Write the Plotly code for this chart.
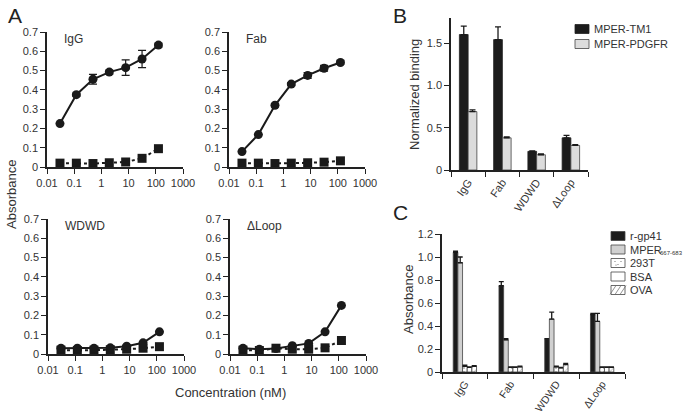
import plotly.graph_objects as go

W, H = 683, 413
FONT = "Liberation Sans, Arial, sans-serif"

# ---- panel A data ----
conc = [0.03, 0.12, 0.49, 1.95, 7.8, 31.25, 125]
a_titles = ["IgG", "Fab", "WDWD", "ΔLoop"]
a_tm1 = [
    [0.225, 0.375, 0.455, 0.492, 0.515, 0.56, 0.632],
    [0.08, 0.168, 0.32, 0.43, 0.475, 0.512, 0.542],
    [0.03, 0.03, 0.03, 0.032, 0.04, 0.058, 0.115],
    [0.03, 0.025, 0.028, 0.043, 0.055, 0.115, 0.252],
]
a_tm1_err = [
    [0.0, 0.008, 0.025, 0.01, 0.04, 0.045, 0.01],
    [0.0, 0.0, 0.008, 0.008, 0.015, 0.015, 0.008],
    [0.0, 0.0, 0.0, 0.0, 0.0, 0.0, 0.0],
    [0.0, 0.0, 0.0, 0.0, 0.0, 0.0, 0.0],
]
a_pdgfr = [
    [0.02, 0.02, 0.018, 0.022, 0.026, 0.045, 0.095],
    [0.02, 0.02, 0.018, 0.02, 0.022, 0.025, 0.032],
    [0.02, 0.018, 0.02, 0.022, 0.025, 0.03, 0.038],
    [0.02, 0.018, 0.03, 0.025, 0.025, 0.032, 0.07],
]

# ---- panel B data ----
b_cats = ["IgG", "Fab", "WDWD", "ΔLoop"]
b_names = ["MPER-TM1", "MPER-PDGFR"]
b_tm1 = [1.6, 1.54, 0.22, 0.38]
b_tm1_err = [0.1, 0.15, 0.005, 0.03]
b_pdgfr = [0.69, 0.38, 0.18, 0.29]
b_pdgfr_err = [0.02, 0.01, 0.01, 0.01]
b_fill = ["#1c1c1c", "#dcdcdc"]

# ---- panel C data ----
c_cats = ["IgG", "Fab", "WDWD", "ΔLoop"]
c_names = ["r-gp41", "MPER", "293T", "BSA", "OVA"]
c_subs = ["", "667-683", "", "", ""]
c_vals = [
    [1.04, 0.75, 0.29, 0.50],
    [0.95, 0.28, 0.46, 0.44],
    [0.05, 0.04, 0.045, 0.04],
    [0.04, 0.04, 0.035, 0.04],
    [0.05, 0.045, 0.065, 0.04],
]
c_errs = [
    [0.01, 0.035, 0.0, 0.01],
    [0.05, 0.01, 0.06, 0.07],
    [0.01, 0.005, 0.005, 0.005],
    [0.005, 0.005, 0.005, 0.005],
    [0.005, 0.005, 0.01, 0.005],
]
c_fill = ["#1c1c1c", "#d0d0d0", "white", "white", "white"]
c_pattern = ["", "", ".", "", "/"]


def px_x(x):
    return x / W


def px_y(y):
    return 1 - y / H


fig = go.Figure()

axis_style = dict(
    showline=True, linecolor="#222", linewidth=1.5, ticks="outside",
    ticklen=5, tickwidth=1.3, tickcolor="#222", showgrid=False, zeroline=False,
    automargin=False,
    tickfont=dict(family=FONT, size=11, color="#333"),
)

# panel A subplot pixel boxes: (x0, x1, ytop, ybottom)
a_boxes = [(47, 183, 32, 167), (229, 365, 32, 167), (48, 184, 219, 354), (230, 366, 219, 354)]

for i in range(4):
    n = i + 1
    xa = "x" if n == 1 else f"x{n}"
    ya = "y" if n == 1 else f"y{n}"
    fig.add_trace(go.Scatter(
        x=conc, y=a_pdgfr[i], xaxis=xa, yaxis=ya, mode="lines+markers",
        line=dict(color="#1a1a1a", width=2, dash="dot"),
        marker=dict(symbol="square", size=9, color="#1a1a1a"),
        cliponaxis=False, showlegend=False,
    ))
    fig.add_trace(go.Scatter(
        x=conc, y=a_tm1[i], xaxis=xa, yaxis=ya, mode="lines+markers",
        line=dict(color="#1a1a1a", width=2),
        marker=dict(symbol="circle", size=9, color="#1a1a1a"),
        error_y=dict(type="data", array=a_tm1_err[i], color="#1a1a1a", thickness=1.2, width=4),
        cliponaxis=False, showlegend=False,
    ))
    x0, x1, yt, yb = a_boxes[i]
    fig.layout[f"xaxis{n if n > 1 else ''}"] = dict(
        axis_style, domain=[px_x(x0), px_x(x1)], anchor=ya, type="log", range=[-2, 3],
        tickvals=[0.01, 0.1, 1, 10, 100, 1000],
        ticktext=["0.01", "0.1", "1", "10", "100", "1000"],
    )
    fig.layout[f"yaxis{n if n > 1 else ''}"] = dict(
        axis_style, domain=[px_y(yb), px_y(yt)], anchor=xa, range=[0, 0.7],
        tickvals=[0, 0.1, 0.2, 0.3, 0.4, 0.5, 0.6, 0.7],
    )
    fig.add_annotation(
        text=a_titles[i], xref="paper", yref="paper", x=px_x(x0 + 15), y=px_y(yt + 7),
        xanchor="left", yanchor="middle", showarrow=False,
        font=dict(family=FONT, size=12, color="#333"),
    )

# panel B
for vals, errs, name, fill, edge in [(b_tm1, b_tm1_err, b_names[0], b_fill[0], "#222"),
                                     (b_pdgfr, b_pdgfr_err, b_names[1], b_fill[1], "#444")]:
    fig.add_trace(go.Bar(
        x=b_cats, y=vals, name=name, xaxis="x5", yaxis="y5", showlegend=False,
        marker=dict(color=fill, line=dict(color=edge, width=0.8)),
        error_y=dict(type="data", array=errs, arrayminus=[0] * 4, symmetric=False,
                     color="#1a1a1a", thickness=1.3, width=3),
    ))
fig.layout.xaxis5 = dict(
    axis_style, domain=[px_x(451), px_x(588)], anchor="y5", type="category",
    tickson="boundaries", tickangle=-55, range=[-0.5, 3.5],
)
fig.layout.yaxis5 = dict(
    axis_style, domain=[px_y(170), px_y(17.6)], anchor="x5", range=[0, 1.8],
    tickvals=[0, 0.5, 1.0, 1.5], ticktext=["0", "0.5", "1.0", "1.5"],
)

# panel C
for k in range(5):
    fig.add_trace(go.Bar(
        x=c_cats, y=c_vals[k], name=c_names[k] + c_subs[k], xaxis="x6", yaxis="y6",
        showlegend=False,
        marker=dict(color=c_fill[k], line=dict(color="#444", width=0.8),
                    pattern=dict(shape=c_pattern[k], fgcolor="#555", size=4, solidity=0.2)),
        error_y=dict(type="data", array=c_errs[k], arrayminus=[0] * 4, symmetric=False,
                     color="#1a1a1a", thickness=1.3, width=2.5),
    ))
fig.layout.xaxis6 = dict(
    axis_style, domain=[px_x(442), px_x(625)], anchor="y6", type="category",
    tickson="boundaries", tickangle=-55, range=[-0.5, 3.5],
    tickfont=dict(family=FONT, size=10.5, color="#333"),
)
fig.layout.yaxis6 = dict(
    axis_style, domain=[px_y(372), px_y(234)], anchor="x6", range=[0, 1.2],
    tickvals=[0, 0.2, 0.4, 0.6, 0.8, 1.0, 1.2],
    ticktext=["0", "0.2", "0.4", "0.6", "0.8", "1.0", "1.2"],
)


# compact legends, GraphPad style (swatch + label)
def legend_item(x, yc, fill, label, pattern="", edge="#444", size=11, sub=""):
    x0, x1, y0, y1 = x, x + 14, yc - 4.5, yc + 4.5
    fig.add_shape(type="rect", xref="paper", yref="paper",
                  x0=px_x(x0), x1=px_x(x1), y0=px_y(y1), y1=px_y(y0),
                  fillcolor=fill, line=dict(color=edge, width=0.8))
    if pattern == "/":
        for dx in (0, 5, 10):
            fig.add_shape(type="line", xref="paper", yref="paper",
                          x0=px_x(x0 + dx - 1), x1=px_x(x0 + dx + 5), y0=px_y(y1), y1=px_y(y0),
                          line=dict(color="#666", width=0.7))
    elif pattern == ".":
        for dx, dy in [(4, -1.5), (7, 1.5), (10, -1.5), (5, 2)]:
            fig.add_shape(type="circle", xref="paper", yref="paper",
                          x0=px_x(x0 + dx - 0.6), x1=px_x(x0 + dx + 0.6),
                          y0=px_y(yc + dy + 0.6), y1=px_y(yc + dy - 0.6),
                          fillcolor="#666", line=dict(width=0))
    fig.add_annotation(text=label, xref="paper", yref="paper", x=px_x(x1 + 3), y=px_y(yc),
                       xanchor="left", yanchor="middle", showarrow=False,
                       font=dict(family=FONT, size=size, color="#333"))
    if sub:
        fig.add_annotation(text=sub, xref="paper", yref="paper", x=px_x(x1 + 33), y=px_y(yc + 3),
                           xanchor="left", yanchor="middle", showarrow=False,
                           font=dict(family=FONT, size=6, color="#333"))


for j, yc in enumerate([29, 44]):
    legend_item(575, yc, b_fill[j], b_names[j], edge="#222" if j == 0 else "#444")
for k, yc in enumerate([236, 249.5, 263, 276.5, 290]):
    legend_item(611, yc, c_fill[k], c_names[k], pattern=c_pattern[k], size=11, sub=c_subs[k])

# panel letters and axis titles
for letter, x, y in [("A", 15, 16), ("B", 400, 16), ("C", 400, 212)]:
    fig.add_annotation(text=letter, xref="paper", yref="paper", x=px_x(x), y=px_y(y),
                       xanchor="center", yanchor="middle",
                       showarrow=False, font=dict(family=FONT, size=21, color="#222"))
for text, x, y in [("Absorbance", 11, 195), ("Normalized binding", 415, 95), ("Absorbance", 408, 300)]:
    fig.add_annotation(text=text, xref="paper", yref="paper", x=px_x(x), y=px_y(y),
                       xanchor="center", yanchor="middle",
                       textangle=-90, showarrow=False, font=dict(family=FONT, size=13, color="#333"))
fig.add_annotation(text="Concentration (nM)", xref="paper", yref="paper", x=px_x(230), y=px_y(392),
                   xanchor="center", yanchor="middle",
                   showarrow=False, font=dict(family=FONT, size=13, color="#333"))

fig.update_layout(
    width=W, height=H, margin=dict(l=0, r=0, t=0, b=0),
    paper_bgcolor="white", plot_bgcolor="white",
    barmode="group", bargap=0.49, bargroupgap=0,
    font=dict(family=FONT, color="#333"),
    showlegend=False,
)

# drop the browser's default body margin so the figure sits at the page corner
fig.write_html("out.html", config={"displayModeBar": False},
               post_script="document.body.style.margin='0';")
